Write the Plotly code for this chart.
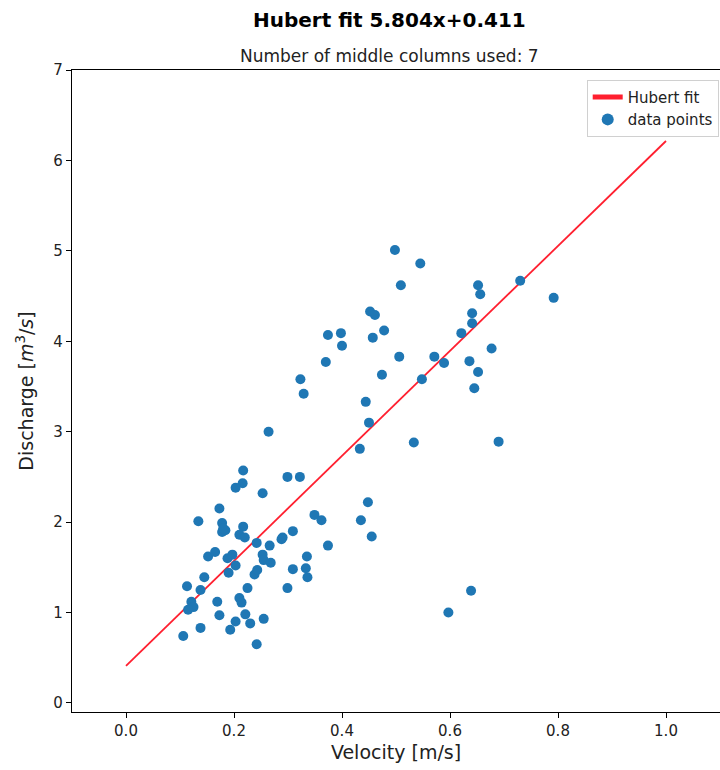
import plotly.graph_objects as go

# data points (velocity [m/s], discharge [m3/s])
velocity = [
    0.498, 0.545, 0.509, 0.652, 0.656, 0.730, 0.792, 0.641, 0.641, 0.621,
    0.636, 0.645, 0.652, 0.677, 0.589, 0.571, 0.548, 0.690, 0.597, 0.639,
    0.506, 0.452, 0.461, 0.457, 0.478, 0.374, 0.398, 0.400, 0.370, 0.474,
    0.323, 0.329, 0.444, 0.450, 0.433, 0.533, 0.299, 0.322, 0.448, 0.349,
    0.362, 0.435, 0.309, 0.290, 0.455, 0.374, 0.335, 0.309, 0.333, 0.336,
    0.299, 0.264, 0.217, 0.216, 0.203, 0.253, 0.173, 0.134, 0.178, 0.178,
    0.184, 0.217, 0.210, 0.288, 0.242, 0.266, 0.152, 0.165, 0.188, 0.197,
    0.203, 0.190, 0.253, 0.255, 0.268, 0.238, 0.243, 0.145, 0.113, 0.138,
    0.225, 0.121, 0.125, 0.115, 0.169, 0.210, 0.214, 0.173, 0.221, 0.230,
    0.203, 0.193, 0.255, 0.138, 0.106, 0.242, 0.180, 0.220,
]
discharge = [
    5.01, 4.86, 4.62, 4.62, 4.52, 4.67, 4.48, 4.31, 4.20, 4.09,
    3.78, 3.48, 3.66, 3.92, 3.76, 3.83, 3.58, 2.89, 1.00, 1.24,
    3.83, 4.33, 4.29, 4.04, 4.12, 4.07, 4.09, 3.95, 3.77, 3.63,
    3.58, 3.42, 3.33, 3.10, 2.81, 2.88, 2.50, 2.50, 2.22, 2.08,
    2.02, 2.02, 1.90, 1.83, 1.84, 1.74, 1.62, 1.48, 1.49, 1.39,
    1.27, 3.00, 2.57, 2.43, 2.38, 2.32, 2.15, 2.01, 1.99, 1.89,
    1.91, 1.95, 1.86, 1.81, 1.77, 1.74, 1.62, 1.67, 1.60, 1.64,
    1.52, 1.44, 1.64, 1.58, 1.55, 1.42, 1.47, 1.39, 1.29, 1.25,
    1.27, 1.12, 1.06, 1.03, 1.12, 1.16, 1.11, 0.97, 0.98, 0.88,
    0.90, 0.81, 0.93, 0.83, 0.74, 0.65, 1.93, 1.83,
]

slope = 5.804
intercept = 0.411
fit_x = [0.0, 1.0]
fit_y = [slope * v + intercept for v in fit_x]

x_ticks = [0.0, 0.2, 0.4, 0.6, 0.8, 1.0]
y_ticks = [0, 1, 2, 3, 4, 5, 6, 7]

FONT = "DejaVu Sans"
TOP, BOTTOM = 70, 58
plot_h = 770 - TOP - BOTTOM

fig = go.Figure()
fig.add_trace(go.Scatter(
    x=fit_x, y=fit_y, mode="lines", name="Hubert fit",
    line=dict(color="#ff1f2f", width=1.8),
))
fig.add_trace(go.Scatter(
    x=velocity, y=discharge, mode="markers", name="data points",
    marker=dict(color="#1f77b4", size=10),
))

fig.update_layout(
    width=720, height=770,
    margin=dict(l=72, r=0, t=TOP, b=BOTTOM),
    paper_bgcolor="white", plot_bgcolor="white",
    font=dict(family=FONT, size=15, color="#222222"),
    showlegend=True,
    legend=dict(
        x=0.998, y=0.985, xanchor="right", yanchor="top",
        bordercolor="#d0d0d0", borderwidth=1, bgcolor="rgba(255,255,255,0.8)",
        font=dict(family=FONT, size=15, color="#222222"),
        itemsizing="constant", tracegroupgap=2,
    ),
    annotations=[
        dict(text="<b>Hubert fit 5.804x+0.411</b>", x=0.49, y=1 + (TOP - 20) / plot_h,
             xref="paper", yref="paper", yanchor="middle", showarrow=False,
             font=dict(family=FONT, size=20, color="black")),
        dict(text="Number of middle columns used: 7", x=0.49, y=1 + (TOP - 56) / plot_h,
             xref="paper", yref="paper", yanchor="middle", showarrow=False,
             font=dict(family=FONT, size=17, color="#222222")),
    ],
)

fig.update_xaxes(
    range=[-0.1, 1.1], tickvals=x_ticks, ticktext=[f"{v:.1f}" for v in x_ticks],
    showgrid=False, zeroline=False, showline=True, linecolor="black", linewidth=1.2,
    mirror=True, ticks="outside", ticklen=5, tickcolor="black",
    tickfont=dict(family=FONT, size=15, color="#222222"),
    title=dict(text="Velocity [m/s]", font=dict(family=FONT, size=19, color="#222222"), standoff=6),
)
fig.update_yaxes(
    range=[-0.1, 7], tickvals=y_ticks, ticktext=[str(v) for v in y_ticks],
    showgrid=False, zeroline=False, showline=True, linecolor="black", linewidth=1.2,
    mirror=True, ticks="outside", ticklen=5, tickcolor="black",
    tickfont=dict(family=FONT, size=15, color="#222222"),
    title=dict(text="Discharge [<i>m</i><sup>3</sup>/<i>s</i>]",
               font=dict(family=FONT, size=19, color="#222222"), standoff=14),
)

fig.write_html("out.html")
